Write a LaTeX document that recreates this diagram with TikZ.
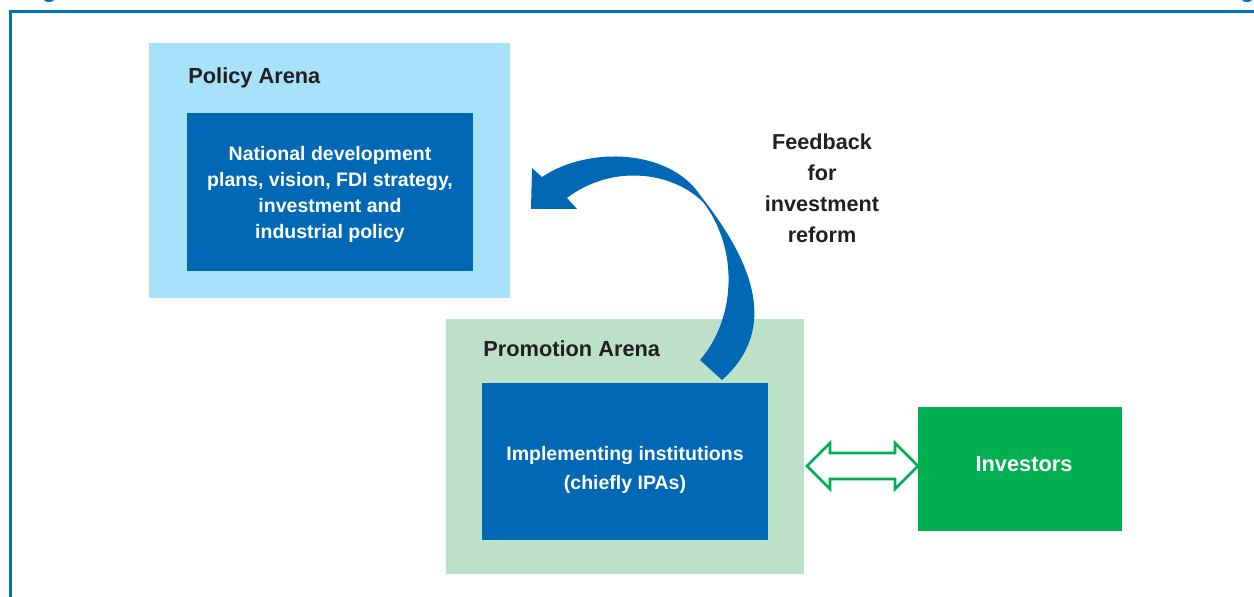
\documentclass[tikz,border=0pt]{standalone}
\usepackage{fontspec}
\setmainfont{Liberation Sans}
\usetikzlibrary{fit,calc}
\definecolor{frameblue}{HTML}{0070C0}
\definecolor{policybg}{HTML}{A7E1FA}
\definecolor{corebox}{HTML}{0068B4}
\definecolor{promobg}{HTML}{BDE0C9}
\definecolor{investgreen}{HTML}{00B050}
\definecolor{inkgray}{HTML}{231F20}

\begin{document}
\begin{tikzpicture}[x=0.02cm,y=-0.02cm,
  panel/.style={inner sep=0pt,outer sep=0pt,fill=#1},
  arenatitle/.style={font=\fontsize{12.4}{15}\selectfont\bfseries,text=inkgray,
    inner sep=0pt,anchor=base west},
  coretext/.style={font=\fontsize{11.1}{#1}\selectfont\bfseries,text=white,
    align=center,inner sep=0pt},
  notetext/.style={font=\fontsize{12.3}{17.6}\selectfont\bfseries,text=inkgray,
    align=center,inner sep=0pt},
  twoway/.style={draw=investgreen,line width=1.5pt,fill=white,line join=miter},
  feedbackarrow/.style={fill=corebox}
]
\useasboundingbox (0,0) rectangle (1254,597);
\clip (0,0) rectangle (1254,597);

% page frame and the clipped header marks
\fill[frameblue] (49,-2) ellipse (6 and 4);
\fill[frameblue] (1247,-2) ellipse (6 and 4);
\draw[frameblue,line width=1.2pt] (10.5,600) -- (10.5,11.5) -- (1260,11.5);

% policy arena
\node[panel=policybg,fit={(149,43) (510,298)}] (policy) {};
\node[panel=corebox,fit={(187,113) (473,271)}] (plans) {};
\node[arenatitle] (policytitle) at (188,84) {Policy Arena};
\node[coretext=14.9pt] (planstext) at (330,194.4)
  {National development\\plans, vision, FDI strategy,\\investment and\\industrial policy};

% promotion arena
\node[panel=promobg,fit={(446,319) (804,574)}] (promo) {};
\node[panel=corebox,fit={(482,383) (768,540)}] (ipa) {};
\node[arenatitle] (promotitle) at (483,357) {Promotion Arena};
\node[coretext=16.4pt] (ipatext) at (625,470)
  {Implementing institutions\\(chiefly IPAs)};

% investors
\node[panel=investgreen,fit={(918,407) (1122,531)}] (inv) {};
\node[font=\fontsize{12.4}{15}\selectfont\bfseries,text=white,inner sep=0pt,
  anchor=base] (invtext) at (1024,472) {Investors};

% two-way outline arrow between promotion arena and investors
\draw[twoway] ($(promo.east |- inv.west)+(3,-3)$) coordinate (linkL)
  -- ++(23,-23) -- ++(0,10) -- ++(65,0) -- ++(0,-10) -- ++(23,23) coordinate (linkR)
  -- ++(-23,23) -- ++(0,-10) -- ++(-65,0) -- ++(0,10) -- cycle;

% curved feedback arrow
\fill[feedbackarrow] (532,168) -- (542,177)
  .. controls (590,145) and (670,150) .. (700,195)
  .. controls (735,240) and (790,320) .. (722,380)
  -- (700,360)
  .. controls (735,320) and (740,250) .. (703,202)
  .. controls (670,170) and (610,165) .. (567,198)
  -- (577,209) -- (531,209) -- cycle;

\node[notetext] (feedback) at (822,188.5) {Feedback\\for\\investment\\reform};
\end{tikzpicture}
\end{document}
